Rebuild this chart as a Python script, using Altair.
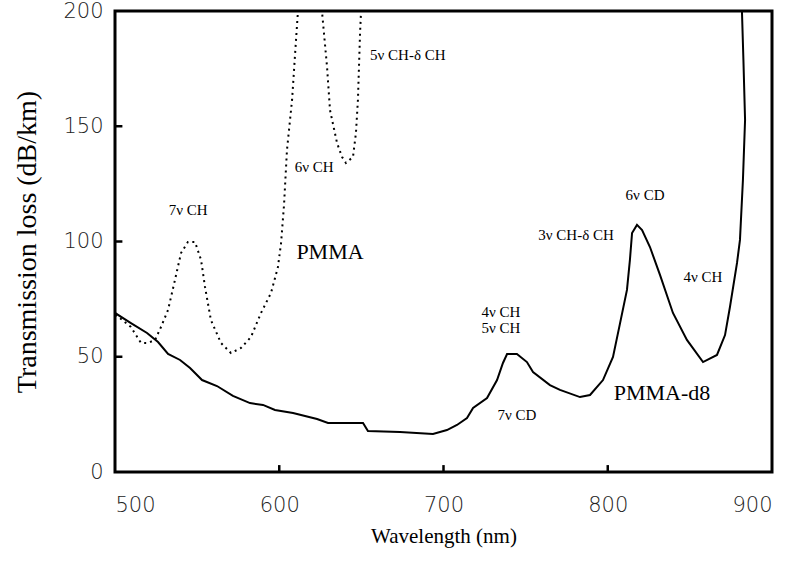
import altair as alt
import pandas as pd

# PMMA-d8 (solid curve)
d8_wl = [500.0, 509.7, 519.5, 526.2, 532.3, 539.6, 545.7, 553.0, 562.1, 571.8,
         582.2, 590.1, 597.4, 608.4, 623.0, 629.7, 651.0, 654.0, 673.5, 693.6,
         702.1, 708.2, 714.3, 718.0, 726.5, 732.6, 736.2, 738.7, 744.7, 750.8,
         754.5, 764.8, 770.9, 783.1, 789.2, 797.1, 803.2, 807.5, 811.7, 813.5,
         814.8, 817.8, 820.9, 825.7, 831.8, 839.7, 848.2, 858.0, 866.5, 871.4,
         874.4, 878.7, 880.5, 882.3, 883.6, 882.6, 881.7]
d8_loss = [69.0, 64.6, 60.3, 56.4, 51.2, 48.6, 45.1, 39.9, 37.3, 33.0,
           29.9, 29.1, 26.9, 25.6, 23.0, 21.3, 21.3, 17.8, 17.4, 16.5,
           18.2, 20.4, 23.4, 27.8, 32.1, 39.9, 47.3, 51.2, 51.2, 47.7,
           43.4, 37.7, 35.6, 32.5, 33.4, 39.9, 49.9, 64.6, 79.0, 92.0,
           103.7, 107.2, 105.0, 97.6, 85.5, 69.0, 57.3, 47.7, 50.8, 59.4,
           71.6, 90.7, 100.7, 126.7, 152.7, 178.7, 200.0]

# PMMA (dotted curve)
pmma_wl = [500.0, 503.0, 509.7, 515.8, 520.1, 524.4, 528.0, 532.3, 536.5, 540.2,
           544.4, 548.7, 552.4, 554.8, 558.4, 564.5, 570.6, 576.7, 582.8, 588.9,
           595.0, 599.2, 601.1, 602.9, 604.7, 607.8, 610.2, 611.4, 618.7, 626.0,
           629.1, 630.9, 635.2, 638.2, 640.6, 644.9, 646.7, 647.9, 649.2, 649.8,
           651.6]
pmma_loss = [68.1, 66.8, 62.9, 56.0, 56.0, 57.3, 62.9, 70.3, 83.3, 95.0,
             99.8, 99.8, 92.0, 80.3, 65.9, 56.0, 51.6, 53.8, 58.6, 69.0,
             77.7, 88.9, 99.3, 115.8, 139.7, 161.4, 187.4, 200.0, 230.0, 200.0,
             175.7, 157.0, 142.7, 136.7, 134.1, 136.7, 147.1, 161.4, 190.5, 200.0,
             215.0]

# annotations
ann_text = ["7ν CH", "6ν CH", "4ν CH", "5ν CH", "7ν CD", "6ν CD", "3ν CH-δ CH", "4ν CH"]
ann_wl = [544.6, 621.2, 735.0, 735.0, 744.7, 822.7, 780.7, 858.0]
ann_loss = [113.8, 132.3, 69.4, 62.5, 24.7, 120.2, 102.8, 84.6]

ann2_text = ["5ν CH-δ CH"]
ann2_wl = [655.3]
ann2_loss = [180.9]

name_text = ["PMMA", "PMMA-d8"]
name_wl = [630.9, 833.0]
name_loss = [95.4, 34.3]

x_ticks = [500, 600, 700, 800, 900]
y_ticks = [0, 50, 100, 150, 200]
x_inner = [600, 700, 800]
y_inner = [50, 100, 150]

d8 = pd.DataFrame({"wl": d8_wl, "loss": d8_loss, "i": range(len(d8_wl))})
pm = pd.DataFrame({"wl": pmma_wl, "loss": pmma_loss, "i": range(len(pmma_wl))})
ann = pd.DataFrame({"wl": ann_wl, "loss": ann_loss, "t": ann_text})
ann2 = pd.DataFrame({"wl": ann2_wl, "loss": ann2_loss, "t": ann2_text})
names = pd.DataFrame({"wl": name_wl, "loss": name_loss, "t": name_text})
xt = pd.DataFrame({"wl": x_inner})
yt = pd.DataFrame({"loss": y_inner})

xs = alt.Scale(domain=[500, 900], nice=False, zero=False)
ys = alt.Scale(domain=[0, 200], nice=False, zero=True)

lab_font = "DejaVu Sans"
serif = "Liberation Serif"

W, H = 657, 461

x_axis = alt.Axis(
    orient="bottom", values=x_ticks, title="Wavelength (nm)", grid=False,
    ticks=False, domain=False,
    labelFont=lab_font, labelFontSize=21, labelColor="#222", labelPadding=22,
    labelFontWeight=300,
    titleFont=serif, titleFontSize=21, titleFontWeight="normal",
    titleColor="black", titlePadding=10)
y_axis = alt.Axis(
    orient="left", values=y_ticks, title="Transmission loss (dB/km)", grid=False,
    ticks=False, domain=False, labelFont=lab_font, labelFontSize=21,
    labelColor="#222", labelPadding=12, labelFontWeight=300,
    titleFont=serif, titleFontSize=28, titleFontWeight="normal",
    titleColor="black", titlePadding=21)


def X(field="wl"):
    return alt.X(f"{field}:Q", scale=xs, axis=x_axis)


def Y(field="loss"):
    return alt.Y(f"{field}:Q", scale=ys, axis=y_axis)


solid = alt.Chart(d8).mark_line(color="black", strokeWidth=2, clip=True).encode(
    x=X(), y=Y(), order="i:Q")

dotted = alt.Chart(pm).mark_line(color="black", strokeWidth=2, strokeDash=[2, 4],
                                 clip=True).encode(x=X(), y=Y(), order="i:Q")

# inward tick marks on the bottom and left frame (short rules through the scales)
xtick_layer = alt.Chart(xt).transform_calculate(
    lo="0", hi="3"
).mark_rule(color="black", strokeWidth=2.5).encode(
    x=X(), y=Y("lo"), y2="hi:Q")
ytick_layer = alt.Chart(yt).transform_calculate(
    lo="500", hi="504.5"
).mark_rule(color="black", strokeWidth=2.5).encode(
    y=Y(), x=X("lo"), x2="hi:Q")

ann_layer = alt.Chart(ann).mark_text(font=serif, fontSize=15, color="black",
                                     align="center", baseline="middle").encode(
    x=X(), y=Y(), text="t:N")

ann2_layer = alt.Chart(ann2).mark_text(font=serif, fontSize=15, color="black",
                                       align="left", baseline="middle").encode(
    x=X(), y=Y(), text="t:N")

name_layer = alt.Chart(names).mark_text(font=serif, fontSize=22, color="black",
                                        align="center", baseline="middle").encode(
    x=X(), y=Y(), text="t:N")

chart = alt.layer(solid, dotted, xtick_layer, ytick_layer, ann_layer, ann2_layer,
                  name_layer).properties(
    width=W, height=H,
    autosize=alt.AutoSizeParams(type="none"),
    padding={"left": 115, "top": 11, "right": 16, "bottom": 95},
    background="white",
).configure_view(stroke="black", strokeWidth=3)

chart.save("out.html", embed_options={"renderer": "svg", "actions": False})
